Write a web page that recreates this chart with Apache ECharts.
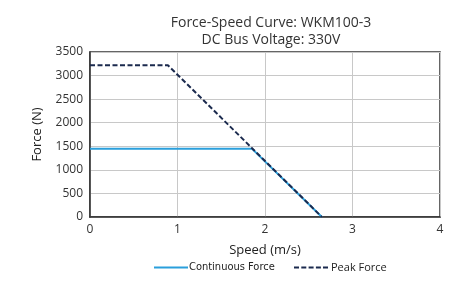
<!DOCTYPE html>
<html>
<head>
<meta charset="utf-8">
<script src="https://cdn.jsdelivr.net/npm/echarts@6/dist/echarts.min.js"></script>
<style>
  html, body { margin: 0; padding: 0; background: #fff; }
  #chart { width: 465px; height: 286px; }
</style>
</head>
<body>
<div id="chart"></div>
<script>
// values
const contSpeed = [0, 1.85, 2.65];
const contForce = [1450, 1450, 0];
const peakSpeed = [0, 0.89, 2.65];
const peakForce = [3220, 3220, 0];
const titleLines = ['Force-Speed Curve: WKM100-3', 'DC Bus Voltage: 330V'];

const font = '"Open Sans", "Noto Sans", sans-serif';

function pairs(xs, ys) {
  return xs.map((x, i) => [x, ys[i]]);
}

const solidIcon = 'path://M0,0 L34,0 L34,2 L0,2 Z';
const dashIcon = 'path://M0,0 L5,0 L5,2 L0,2 Z M7.3,0 L12.3,0 L12.3,2 L7.3,2 Z M14.6,0 L19.6,0 L19.6,2 L14.6,2 Z M21.9,0 L26.9,0 L26.9,2 L21.9,2 Z M29,0 L34,0 L34,2 L29,2 Z';

const chart = echarts.init(document.getElementById('chart'));

const legendBase = {
  top: 262,
  itemWidth: 34,
  itemHeight: 2,
  itemGap: 0,
  padding: 0
};

chart.setOption({
  animation: false,
  title: {
    text: titleLines.join('\n'),
    left: 266,
    top: 10,
    textAlign: 'center',
    textStyle: { fontFamily: font, fontSize: 14, fontWeight: 'normal', color: '#333', lineHeight: 17 }
  },
  grid: {
    left: 90, right: 25, top: 52, bottom: 69,
    show: true, borderColor: '#333', borderWidth: 1.5
  },
  legend: [
    Object.assign({}, legendBase, {
      left: 154,
      icon: solidIcon,
      textStyle: { fontFamily: '"Liberation Sans Narrow", "DejaVu Sans Condensed", sans-serif', fontSize: 11, color: '#222', padding: [0, 0, 0, -4] },
      data: ['Continuous Force']
    }),
    Object.assign({}, legendBase, {
      left: 294,
      icon: dashIcon,
      textStyle: { fontFamily: font, fontSize: 11, color: '#222', padding: [0, 0, 0, -2] },
      data: ['Peak Force']
    })
  ],
  xAxis: {
    type: 'value',
    min: 0, max: 4, interval: 1,
    name: 'Speed (m/s)',
    nameLocation: 'middle',
    nameGap: 27,
    nameTextStyle: { fontFamily: font, fontSize: 13, color: '#222' },
    axisLine: { show: true, lineStyle: { color: '#333', width: 1.5 } },
    axisTick: { show: false },
    axisLabel: { fontFamily: font, fontSize: 12, color: '#333', margin: 7 },
    splitLine: { show: true, lineStyle: { color: '#c8c8c8', width: 1 } }
  },
  yAxis: {
    type: 'value',
    min: 0, max: 3500, interval: 500,
    name: 'Force (N)',
    nameLocation: 'middle',
    nameGap: 46,
    nameRotate: 90,
    nameTextStyle: { fontFamily: font, fontSize: 13, color: '#222' },
    axisLine: { show: true, lineStyle: { color: '#333', width: 1.5 } },
    axisTick: { show: false },
    axisLabel: { fontFamily: font, fontSize: 12, color: '#333', margin: 7, formatter: v => String(v) },
    splitLine: { show: true, lineStyle: { color: '#c8c8c8', width: 1 } }
  },
  series: [
    {
      name: 'Continuous Force',
      type: 'line',
      data: pairs(contSpeed, contForce),
      symbol: 'none',
      lineStyle: { color: '#2a9fdc', width: 2 },
      itemStyle: { color: '#2a9fdc' }
    },
    {
      name: 'Peak Force',
      type: 'line',
      data: pairs(peakSpeed, peakForce),
      symbol: 'none',
      lineStyle: { color: '#1b2a4e', width: 2, type: [5, 2.5] },
      itemStyle: { color: '#1b2a4e' }
    }
  ]
});
</script>
</body>
</html>
